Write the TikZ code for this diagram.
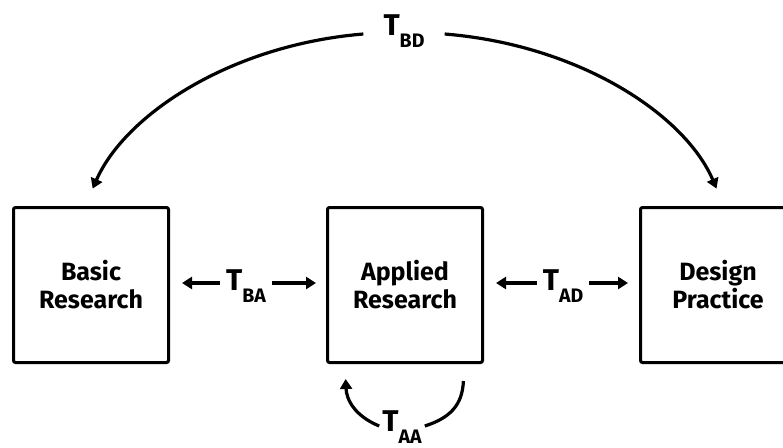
\documentclass[tikz,border=0pt]{standalone}
\usepackage{fontspec}
\setmainfont{Fira Sans}
\usetikzlibrary{arrows.meta}
\newcommand\Tsub[1]{T\raisebox{-12pt}{\fontsize{19.5}{19.5}\selectfont #1}}
\begin{document}
\begin{tikzpicture}[x=1pt,y=-1pt,
 box/.style={draw, line width=3pt, rounded corners=2pt, minimum width=155pt, minimum height=155pt, align=center, font=\bfseries\fontsize{25}{28}\selectfont, inner sep=0pt},
 lab/.style={inner xsep=6pt, inner ysep=0pt, font=\bfseries\fontsize{30}{30}\selectfont},
 line/.style={line width=3.2pt},
 arr/.style={line, -{Triangle[length=10pt,width=12pt]}}]
\useasboundingbox (0,0) rectangle (783,447);
\clip (0,0) rectangle (783,447);
\node[box] (basic) at (91,285) {Basic\\Research};
\node[box] (applied) at (405,285) {Applied\\Research};
\node[box] (design) at (718,285) {Design\\Practice};

\node[lab, anchor=base] (tba) at (246,290) {\Tsub{BA}};
\node[lab, anchor=base] (tad) at (563,290) {\Tsub{AD}};
\node[lab, anchor=base, inner xsep=20pt] (tbd) at (404,35) {\Tsub{BD}};
\node[lab, anchor=base, inner xsep=3pt] (taa) at (402,431) {\Tsub{AA}};

\coordinate (baL) at ([yshift=7pt]tba.base west);
\coordinate (baR) at ([yshift=7pt]tba.base east);
\coordinate (adL) at ([yshift=7pt]tad.base west);
\coordinate (adR) at ([yshift=7pt]tad.base east);
\draw[arr, shorten >=12pt] (baL) -- (baL -| basic.east);
\draw[arr, shorten >=10pt] (baR) -- (baR -| applied.west);
\draw[arr, shorten >=12pt] (adL) -- (adL -| applied.east);
\draw[arr, shorten >=11pt] (adR) -- (adR -| design.west);

\coordinate (bdL) at ([yshift=1pt]tbd.base west);
\coordinate (bdR) at ([yshift=1pt]tbd.base east);
\draw[arr, shorten >=19pt] (bdL) .. controls (230,45) and (125,115) .. ([xshift=-6pt]basic.north);
\draw[arr, shorten >=19pt] (bdR) .. controls (580,45) and (685,115) .. ([xshift=6pt]design.north);

\coordinate (aaL) at ([yshift=5pt]taa.base west);
\coordinate (aaR) at ([yshift=5pt]taa.base east);
\draw[arr, shorten >=15pt] (aaL) .. controls (355,416) and (346.5,400) .. ([xshift=19pt]applied.south west);
\draw[line, shorten <=17pt] ([xshift=-20pt]applied.south east) .. controls (462.5,405) and (450,418) .. (aaR);
\end{tikzpicture}
\end{document}
